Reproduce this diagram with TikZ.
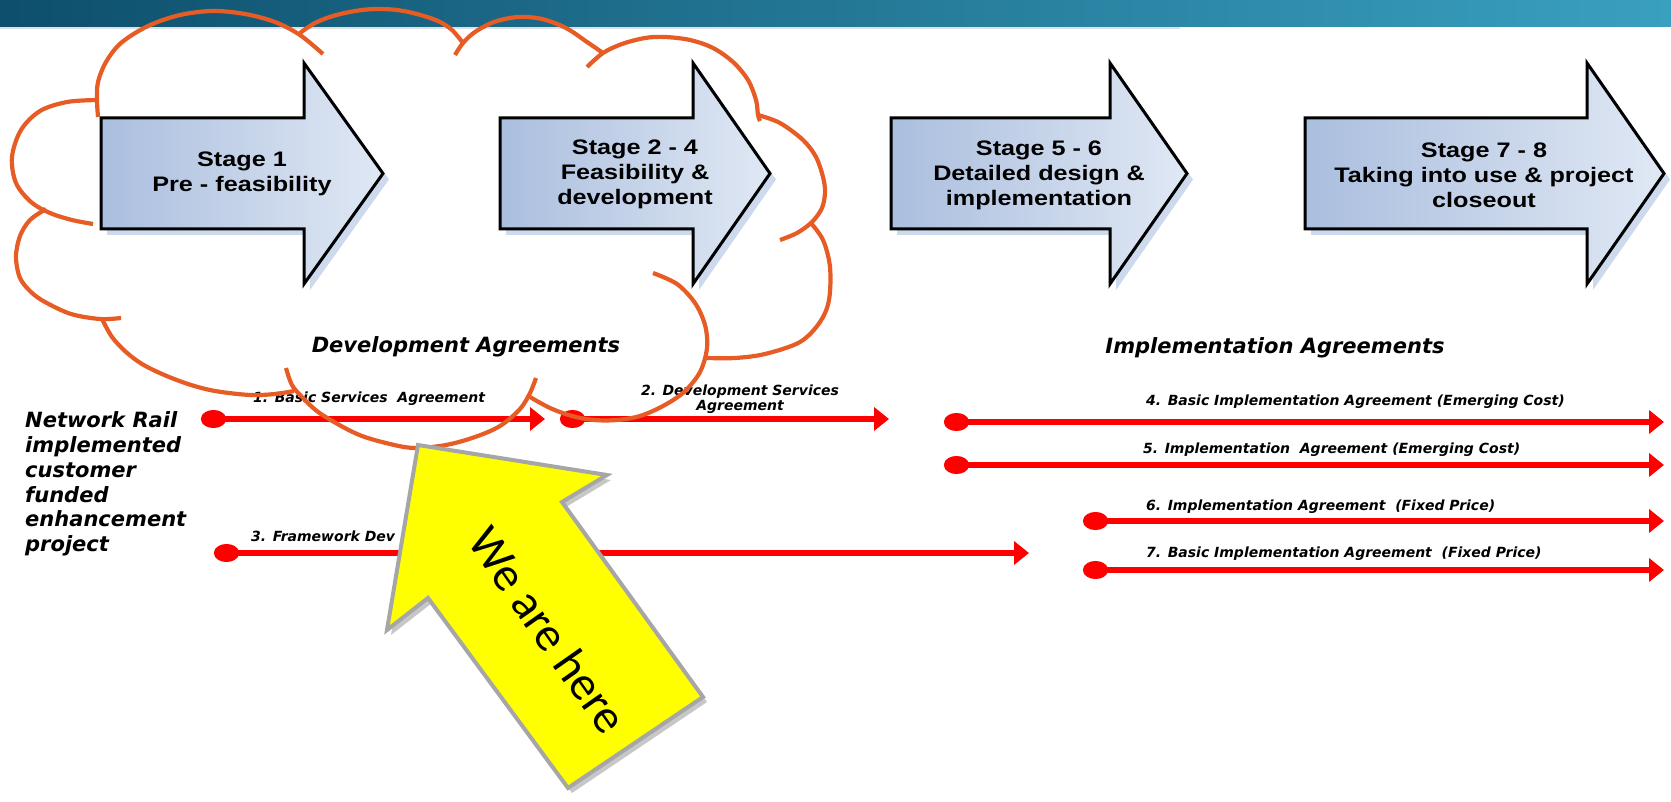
\documentclass[tikz,border=0pt]{standalone}
\usepackage{fontspec}
\setmainfont{Liberation Sans}
\newfontfamily\dvs{DejaVu Sans}
\newfontfamily\carl{Carlito}
\usetikzlibrary{arrows.meta}
\definecolor{banA}{RGB}{13,79,108}
\definecolor{banB}{RGB}{58,160,192}
\definecolor{cloudc}{RGB}{230,92,36}
\definecolor{stA}{RGB}{170,190,222}
\definecolor{stB}{RGB}{224,232,244}
\definecolor{stshadow}{RGB}{205,217,236}
\definecolor{ygray}{RGB}{166,166,166}
\definecolor{rline}{RGB}{255,0,0}
\definecolor{faint}{RGB}{218,226,232}
\definecolor{yel}{RGB}{255,255,0}
\newcommand\stagearr[3]{%
 \fill[stageshadow] (#1+6,124) -- (#2+6,124) -- (#2+6,69) -- (#3+6,179.5) -- (#2+6,290) -- (#2+6,235) -- (#1+6,235) -- cycle;
 \draw[stageshape] (#1,118) -- (#2,118) -- (#2,63) -- (#3,173.5) -- (#2,284) -- (#2,229) -- (#1,229) -- cycle;
}
\begin{document}
\begin{tikzpicture}[x=1pt,y=-1pt,
  stageshape/.style={draw=black,line width=3pt,line join=miter,left color=stA,right color=stB},
  stageshadow/.style={fill=stshadow,draw=none},
  stagetext/.style={align=center,font=\fontsize{21}{25}\selectfont\bfseries,xscale=1.2,inner sep=0pt},
  cloudline/.style={draw=cloudc,line width=4.2pt,line cap=butt},
  redline/.style={draw=rline,line width=6.5pt,arrows={Circle[length=25pt,width=18pt]-Triangle[length=15pt,width=23pt]}},
  lab/.style={font=\dvs\fontsize{14}{15}\selectfont\bfseries\itshape,inner sep=0pt},
  hdr/.style={font=\dvs\fontsize{21}{25}\selectfont\bfseries\itshape,inner sep=0pt},
]
\useasboundingbox (0,0) rectangle (1671,802);
% banner
\shade[left color=banA,right color=banB] (0,0) rectangle (1671,27);
\fill[faint] (0,27) rectangle (1180,29);
% stage arrows
\stagearr{101}{304}{383}
\stagearr{500}{693}{770}
\stagearr{891}{1110}{1187}
\stagearr{1305}{1587}{1664}
\node[stagetext] (s1) at (242,174) {Stage 1\\Pre - feasibility};
\node[stagetext] (s2) at (635,174) {Stage 2 - 4\\Feasibility \&\\development};
\node[stagetext] (s3) at (1039,175) {Stage 5 - 6\\Detailed design \&\\implementation};
\node[stagetext] (s4) at (1484,175) {Stage 7 - 8\\Taking into use \& project\\closeout};
% headers
\node[hdr] (dev) at (466,347) {Development Agreements};
\node[hdr] (impl) at (1275,348) {Implementation Agreements};
\node[hdr,align=left,anchor=west,font=\dvs\fontsize{21}{24.8}\selectfont\bfseries\itshape] (nr) at (25,484) {Network Rail\\implemented\\customer\\funded\\enhancement\\project};
% red lines
\coordinate (a1) at (201,419); \coordinate (b1) at (545,419);
\coordinate (a2) at (560,419); \coordinate (b2) at (889,419);
\coordinate (a3) at (214,553); \coordinate (b3) at (1029,553);
\coordinate (a4) at (944,422); \coordinate (b4) at (1664,422);
\coordinate (a5) at (944,465); \coordinate (b5) at (1664,465);
\coordinate (a6) at (1083,521); \coordinate (b6) at (1664,521);
\coordinate (a7) at (1083,570); \coordinate (b7) at (1664,570);
\foreach \i in {1,...,7} {\draw[redline] (a\i) -- (b\i);}
% labels
\node[lab,anchor=west] (l1) at (253,399) {1. Basic Services\ \ Agreement};
\node[lab,align=center] (l2) at (740,399) {2. Development Services\\Agreement};
\node[lab,anchor=west] (l3) at (251,536) {3. Framework Dev};
\node[lab,anchor=west] (l4) at (1146,402) {4. Basic Implementation Agreement (Emerging Cost)};
\node[lab,anchor=west] (l5) at (1143,450) {5. Implementation\ \ Agreement (Emerging Cost)};
\node[lab,anchor=west] (l6) at (1146,507) {6. Implementation Agreement\ \ (Fixed Price)};
\node[lab,anchor=west] (l7) at (1146,554) {7. Basic Implementation Agreement\ \ (Fixed Price)};
% cloud
\draw[cloudline] plot[smooth,tension=0.55] coordinates {(97,100) (67,102) (40,111) (21,130) (12,157) (16,183) (31,202) (50,213) (72,220) (93,224)};
\draw[cloudline] plot[smooth,tension=0.55] coordinates {(46,209) (30,220) (20,236) (16,257) (20,278) (31,292) (45,302) (71,314) (100,319) (121,318)};
\draw[cloudline] plot[smooth,tension=0.55] coordinates {(102,319) (112,337) (126,352) (142,364) (162,374) (188,384) (215,391) (250,395) (275,394) (294,391)};
\draw[cloudline] plot[smooth,tension=0.55] coordinates {(286,368) (292,385) (303,398) (321,414) (357,434) (390,444) (415,448) (446,445) (475,437) (500,426) (520,409) (530,393) (536,378)};
\draw[cloudline] plot[smooth,tension=0.55] coordinates {(653,273) (677,284) (695,303) (705,325) (707,348) (700,372) (684,392) (663,406) (640,416) (617,420) (594,420) (572,416) (550,408) (530,397)};
\draw[cloudline] plot[smooth,tension=0.55] coordinates {(810,222) (823,240) (830,267) (829,300) (820,322) (800,342) (765,354) (735,358) (707,358)};
\draw[cloudline] plot[smooth,tension=0.55] coordinates {(758,115) (780,123) (803,140) (816,157) (823,177) (825,192) (822,208) (812,222) (797,233) (780,240)};
\draw[cloudline] plot[smooth,tension=0.55] coordinates {(587,67) (603,53) (622,44) (645,38) (665,37) (690,40) (713,48) (733,62) (748,80) (756,100) (758,115) (760,121)};
\draw[cloudline] plot[smooth,tension=0.55] coordinates {(455,55) (463,43) (475,32) (494,22) (518,17) (542,19) (566,28) (587,42) (603,53)};
\draw[cloudline] plot[smooth,tension=0.55] coordinates {(300,33) (315,23) (333,16) (355,11) (375,9) (397,10) (417,14) (438,21) (452,30) (463,43)};
\draw[cloudline] plot[smooth,tension=0.55] coordinates {(98,117) (97,100) (98,82) (106,62) (121,43) (148,26) (180,15) (213,11) (245,14) (275,22) (300,35) (323,54)};
% yellow arrow
\fill[black,opacity=0.22] (422,450) -- (611,480) -- (566,507) -- (707,702) -- (572,793) -- (432,603) -- (391,635) -- cycle;
\draw[fill=yel,draw=ygray,line width=4pt,line join=miter] (418,445) -- (607,475) -- (562,502) -- (703,697) -- (568,788) -- (428,598) -- (387,630) -- cycle;
\node[font=\carl\fontsize{48}{52}\selectfont,rotate=-55,inner sep=0pt] (here) at (548,630) {We are here};
\end{tikzpicture}
\end{document}
